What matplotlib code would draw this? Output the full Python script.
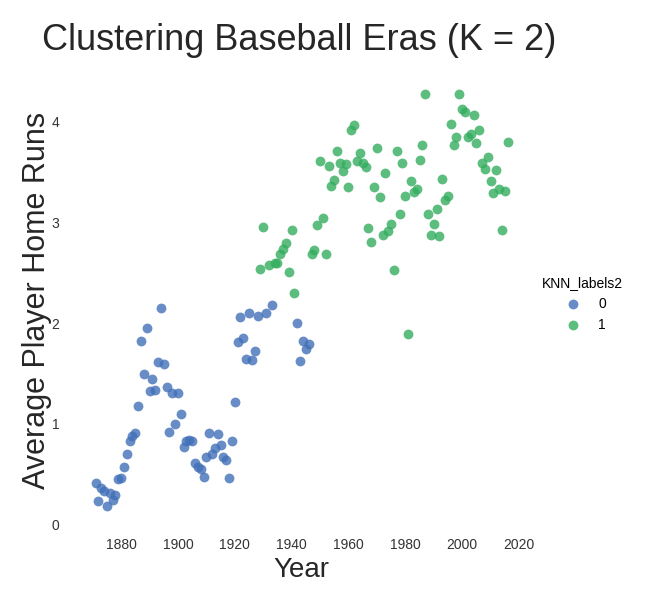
import matplotlib
matplotlib.use("Agg")
import matplotlib.pyplot as plt
import numpy as np

years = list(range(1871, 2017))
home_runs = [
    # 1871-1880
    0.41, 0.23, 0.36, 0.33, 0.18, 0.31, 0.24, 0.29, 0.45, 0.46,
    # 1881-1890
    0.57, 0.70, 0.83, 0.88, 0.91, 1.18, 1.82, 1.49, 1.95, 1.33,
    # 1891-1900
    1.44, 1.34, 1.61, 2.15, 1.59, 1.37, 0.92, 1.31, 1.00, 1.31,
    # 1901-1910
    1.10, 0.77, 0.83, 0.84, 0.83, 0.61, 0.57, 0.55, 0.47, 0.67,
    # 1911-1920
    0.91, 0.70, 0.76, 0.90, 0.79, 0.67, 0.64, 0.46, 0.83, 1.22,
    # 1921-1930
    1.81, 2.06, 1.85, 1.64, 2.10, 1.63, 1.72, 2.07, 2.54, 2.95,
    # 1931-1940
    2.10, 2.58, 2.18, 2.60, 2.60, 2.69, 2.74, 2.79, 2.51, 2.92,
    # 1941-1950
    2.30, 2.00, 1.62, 1.82, 1.74, 1.79, 2.69, 2.73, 2.97, 3.61,
    # 1951-1960
    3.04, 2.69, 3.56, 3.36, 3.42, 3.71, 3.59, 3.51, 3.58, 3.35,
    # 1961-1970
    3.92, 3.97, 3.61, 3.69, 3.59, 3.55, 2.94, 2.80, 3.35, 3.74,
    # 1971-1980
    3.25, 2.87, 3.49, 2.91, 2.98, 2.53, 3.71, 3.08, 3.59, 3.26,
    # 1981-1990
    1.89, 3.41, 3.30, 3.33, 3.62, 3.77, 4.27, 3.08, 2.87, 2.98,
    # 1991-2000
    3.13, 2.86, 3.43, 3.22, 3.26, 3.98, 3.77, 3.85, 4.27, 4.13,
    # 2001-2010
    4.10, 3.85, 3.88, 4.07, 3.79, 3.92, 3.59, 3.53, 3.65, 3.41,
    # 2011-2016
    3.29, 3.52, 3.33, 2.92, 3.31, 3.80,
]
cluster1_years = [1929, 1930, 1932] + list(range(1934, 1942)) + list(range(1947, 2017))
labels = [1 if y in cluster1_years else 0 for y in years]
label_names = ["0", "1"]
colors = ["#4270B8", "#33AD5E"]

x_ticks = [1880, 1900, 1920, 1940, 1960, 1980, 2000, 2020]
y_ticks = [0, 1, 2, 3, 4]

plt.rcParams['font.family'] = ['Liberation Sans', 'DejaVu Sans']

fig = plt.figure(figsize=(6.57, 5.90), dpi=100)
ax = fig.add_axes([0.114, 0.105, 0.690, 0.770])

yrs = np.array(years)
hr = np.array(home_runs)
lab = np.array(labels)
handles = []
for k, name in enumerate(label_names):
    m = lab == k
    h = ax.scatter(yrs[m], hr[m], s=50, color=colors[k], alpha=0.8,
                   linewidths=0, label=name)
    handles.append(h)

ax.set_xlim(1863.75, 2023.25)
ax.set_ylim(-0.035, 4.475)
ax.set_xticks(x_ticks)
ax.set_yticks(y_ticks)
ax.tick_params(axis='both', length=0, labelsize=10, labelcolor='#333333')
ax.tick_params(axis='x', pad=7)
ax.tick_params(axis='y', pad=11)
for s in ax.spines.values():
    s.set_visible(False)

ax.set_xlabel("Year", fontsize=20, color='#262626', labelpad=4)
ax.set_ylabel("Average Player Home Runs", fontsize=22, color='#262626', labelpad=0)
fig.text(0.456, 0.932, "Clustering Baseball Eras (K = 2)", fontsize=26,
         color='#262626', ha='center', va='center')

leg = fig.legend(handles=handles, labels=label_names, title="KNN_labels2",
                 loc='center left', bbox_to_anchor=(0.806, 0.485), frameon=False,
                 fontsize=10, title_fontsize=10, handletextpad=0.8,
                 markerscale=1.0)
for lh in leg.legend_handles:
    lh.set_alpha(0.8)

fig.savefig("out.png", dpi=100)
